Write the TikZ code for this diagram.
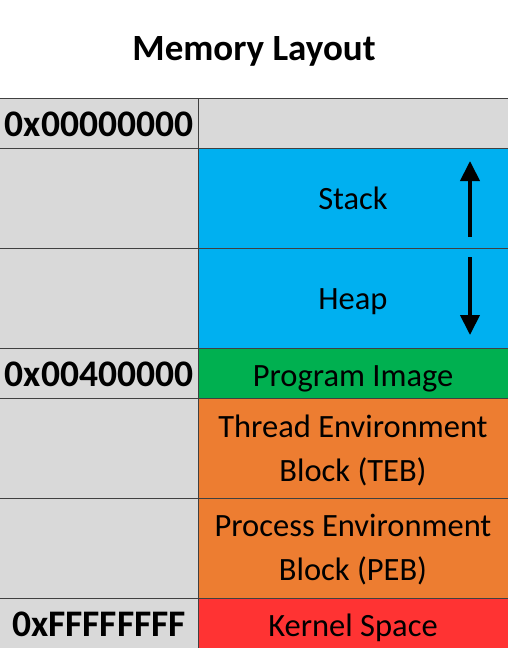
\documentclass[tikz,border=0pt]{standalone}
\usepackage{fontspec}
\setmainfont{Carlito}
\usetikzlibrary{arrows.meta}
\definecolor{cellgray}{HTML}{D9D9D9}
\definecolor{cellblue}{HTML}{00B0F0}
\definecolor{cellgreen}{HTML}{00B050}
\definecolor{cellorange}{HTML}{ED7D31}
\definecolor{cellred}{HTML}{FF3333}
\definecolor{gridline}{HTML}{404040}
\tikzset{
  cell/.style={anchor=north west, inner sep=0pt, outer sep=0pt},
  addr/.style={cell, fill=cellgray, minimum width=198pt},
  region/.style={cell, minimum width=310pt},
  rule/.style={draw=gridline, line width=1pt},
  addrtext/.style={anchor=base, inner sep=0pt, text=black,
    font=\fontsize{37.5}{44}\selectfont\bfseries},
  regiontext/.style={anchor=base, inner sep=0pt, text=black, align=center,
    font=\fontsize{32.5}{44}\selectfont},
  growth/.style={line width=4pt, -{Triangle[width=19pt,length=20pt]}},
}
\begin{document}
\begin{tikzpicture}[x=1pt,y=1pt]
  \useasboundingbox (0,0) rectangle (508,-648);
  \fill[white] (0,0) rectangle (508,-648);
  % title
  \node[anchor=base, inner sep=0pt, font=\fontsize{37}{44}\selectfont\bfseries]
    (title) at (254,-60) {Memory Layout};
  % address column
  \node[addr, minimum height=50pt]  (a0) at (0,-98)  {};
  \node[addr, minimum height=100pt] (a1) at (0,-148) {};
  \node[addr, minimum height=100pt] (a2) at (0,-248) {};
  \node[addr, minimum height=50pt]  (a3) at (0,-348) {};
  \node[addr, minimum height=100pt] (a4) at (0,-398) {};
  \node[addr, minimum height=100pt] (a5) at (0,-498) {};
  \node[addr, minimum height=50pt]  (a6) at (0,-598) {};
  % region column
  \node[region, fill=cellgray,   minimum height=50pt]  (r0) at (198,-98)  {};
  \node[region, fill=cellblue,   minimum height=100pt] (r1) at (198,-148) {};
  \node[region, fill=cellblue,   minimum height=100pt] (r2) at (198,-248) {};
  \node[region, fill=cellgreen,  minimum height=50pt]  (r3) at (198,-348) {};
  \node[region, fill=cellorange, minimum height=100pt] (r4) at (198,-398) {};
  \node[region, fill=cellorange, minimum height=100pt] (r5) at (198,-498) {};
  \node[region, fill=cellred,    minimum height=50pt]  (r6) at (198,-598) {};
  % row and column rules
  \foreach \i in {0,...,6}
    \draw[rule] (a\i.north west) -- (r\i.north east);
  \draw[rule] (a0.north east) -- (a6.south east);
  % addresses, set on their baselines
  \node[addrtext] (t0) at (99,-136) {0x00000000};
  \node[addrtext] (t3) at (99,-386) {0x00400000};
  \node[addrtext] (t6) at (99,-636) {0xFFFFFFFF};
  % region names, set on the baseline of their last line
  \node[regiontext] (l1) at (353,-209) {Stack};
  \node[regiontext] (l2) at (353,-309) {Heap};
  \node[regiontext] (l3) at (353,-386) {Program Image};
  \node[regiontext] (l4) at (353,-481) {Thread Environment\\Block (TEB)};
  \node[regiontext] (l5) at (353,-580) {Process Environment\\Block (PEB)};
  \node[regiontext] (l6) at (353,-636) {Kernel Space};
  % growth directions
  \coordinate (stackfrom) at (470,-237);
  \coordinate (stackto)   at (470,-161);
  \coordinate (heapfrom)  at (470,-257);
  \coordinate (heapto)    at (470,-335);
  \draw[growth] (stackfrom) -- (stackto);
  \draw[growth] (heapfrom) -- (heapto);
\end{tikzpicture}
\end{document}
